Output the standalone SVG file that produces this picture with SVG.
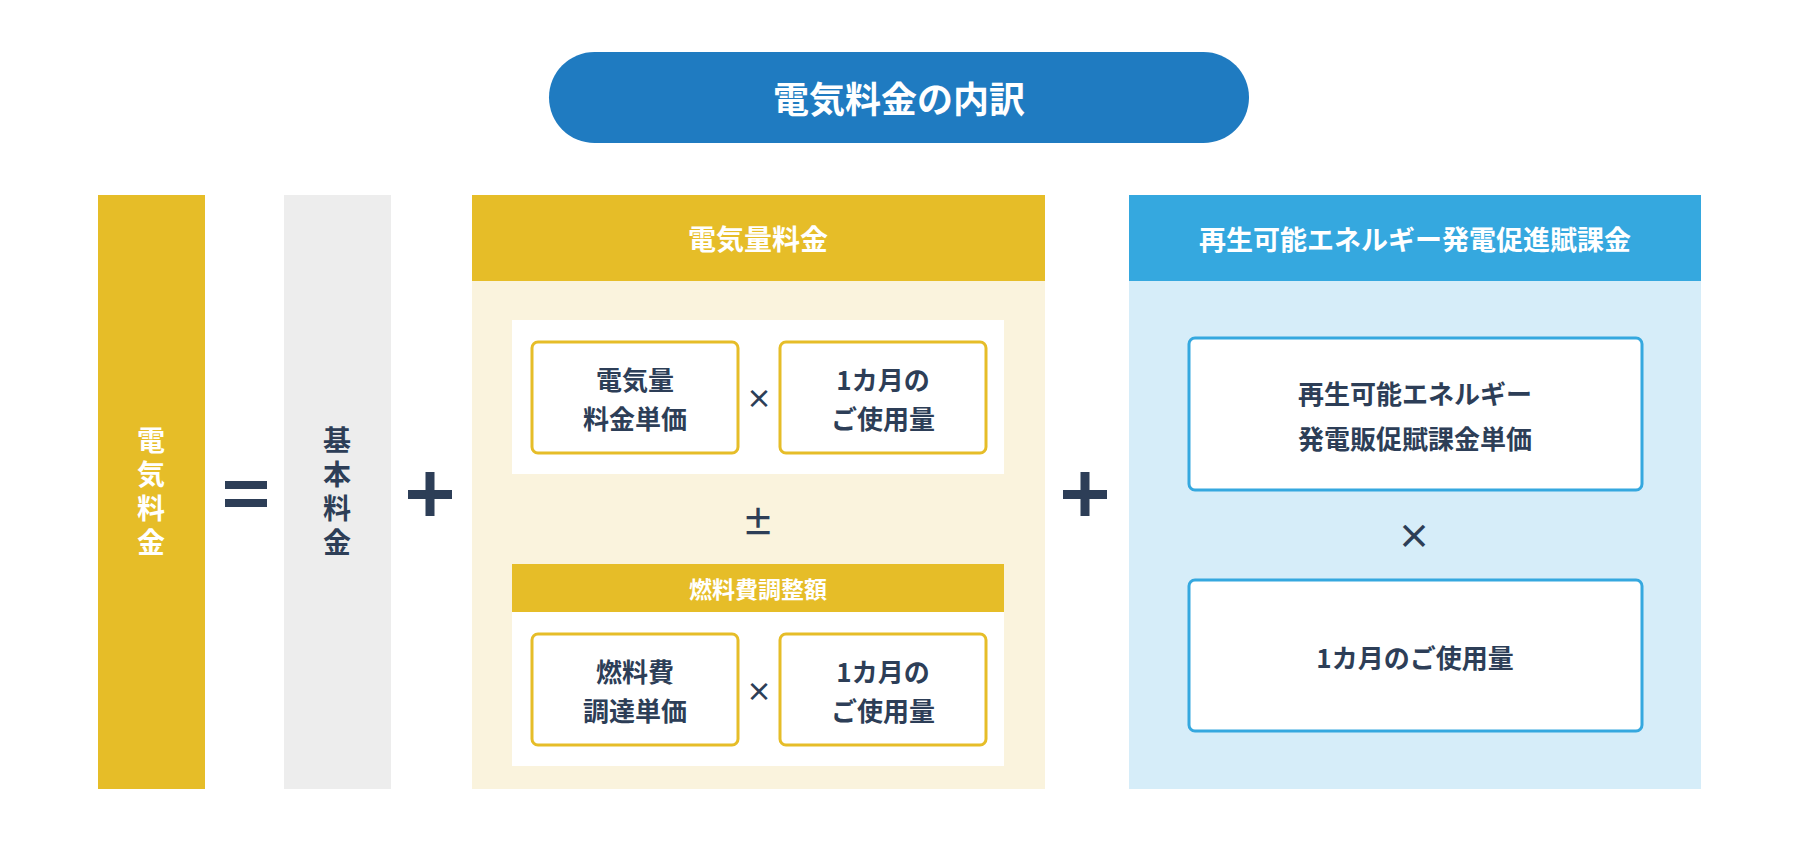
<svg xmlns="http://www.w3.org/2000/svg" width="1800" height="841" viewBox="0 0 1800 841">
<style>
text{font-family:"Noto Sans CJK JP","Noto Sans",sans-serif;font-weight:700;text-anchor:middle;dominant-baseline:central}
.w{fill:#fff}.d{fill:#2d3e57}
.yb{fill:#fff;stroke:#e6bd28;stroke-width:3}
.bb{fill:#fff;stroke:#35a8df;stroke-width:3}
.t{font-size:26px}
.v{font-size:28px;writing-mode:vertical-rl;letter-spacing:6px}
</style>
<rect width="1800" height="841" fill="#fff"/>
<g id="title"><rect x="549" y="52" width="700" height="91" rx="45.5" fill="#1f7bc1"/><text class="w" x="899" y="97" font-size="36">電気料金の内訳</text></g>
<g id="total"><rect x="98" y="195" width="107" height="594" fill="#e6bd28"/>
<text class="w v" x="151" y="494">電気料金</text></g>
<g id="eq"><rect x="225" y="481" width="42" height="8" class="d"/><rect x="225" y="499" width="42" height="8" class="d"/></g>
<g id="base"><rect x="284" y="195" width="107" height="594" fill="#ededed"/>
<text class="d v" x="337" y="494">基本料金</text></g>
<g id="plus1"><rect x="408" y="490" width="44" height="9" class="d"/><rect x="425.5" y="472" width="9" height="44" class="d"/></g>
<g id="energy"><rect x="472" y="195" width="573" height="594" fill="#faf3dd"/>
<rect x="472" y="195" width="573" height="86" fill="#e6bd28"/><text class="w" x="758" y="238" font-size="28">電気量料金</text>
<rect x="512" y="320" width="492" height="154" fill="#fff"/>
<rect class="yb" x="532" y="342" width="206" height="111" rx="6"/><text class="d t"><tspan x="635" y="378">電気量</tspan><tspan x="635" y="417">料金単価</tspan></text>
<text class="d" x="759" y="396" font-size="26">×</text>
<rect class="yb" x="780" y="342" width="206" height="111" rx="6"/><text class="d t"><tspan x="883" y="378">1カ月の</tspan><tspan x="883" y="417">ご使用量</tspan></text>
<text class="d" x="758" y="520" font-size="32" font-weight="400">±</text>
<rect x="512" y="564" width="492" height="48" fill="#e6bd28"/><text class="w" x="758" y="588" font-size="23">燃料費調整額</text>
<rect x="512" y="612" width="492" height="154" fill="#fff"/>
<rect class="yb" x="532" y="634" width="206" height="111" rx="6"/><text class="d t"><tspan x="635" y="670">燃料費</tspan><tspan x="635" y="709">調達単価</tspan></text>
<text class="d" x="759" y="689" font-size="26">×</text>
<rect class="yb" x="780" y="634" width="206" height="111" rx="6"/><text class="d t"><tspan x="883" y="670">1カ月の</tspan><tspan x="883" y="709">ご使用量</tspan></text></g>
<g id="plus2"><rect x="1063" y="490" width="44" height="9" class="d"/><rect x="1080.5" y="472" width="9" height="44" class="d"/></g>
<g id="renew"><rect x="1129" y="195" width="572" height="594" fill="#d6edf9"/>
<rect x="1129" y="195" width="572" height="86" fill="#35a8df"/><text class="w" x="1415" y="238" font-size="27">再生可能エネルギー発電促進賦課金</text>
<rect class="bb" x="1189" y="338" width="453" height="152" rx="6"/><text class="d t"><tspan x="1415" y="392">再生可能エネルギー</tspan><tspan x="1415" y="437">発電販促賦課金単価</tspan></text>
<text class="d" x="1414" y="534" font-size="34">×</text>
<rect class="bb" x="1189" y="580" width="453" height="151" rx="6"/><text class="d t" x="1415" y="656">1カ月のご使用量</text></g>
</svg>
